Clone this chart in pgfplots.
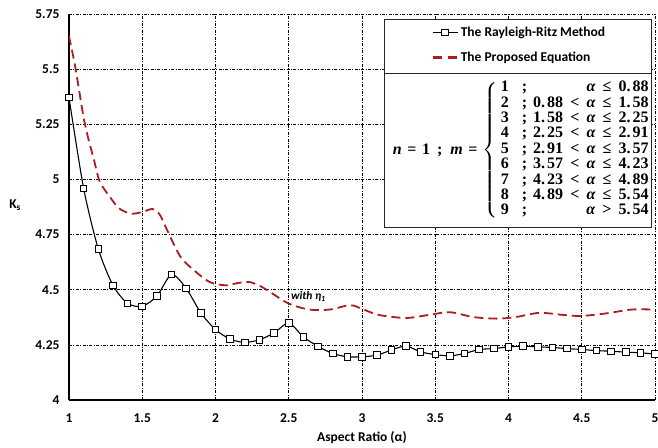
\documentclass[border=0pt]{standalone}
\usepackage{amsmath}
\usepackage{pgfplots}
\pgfplotsset{compat=1.18}
\usepackage{fontspec}
\setmainfont{Carlito}
\newfontfamily\cam{Liberation Serif}
\definecolor{dred}{RGB}{172,28,34}
\newcommand\tb[1]{\text{\cam\bfseries #1}}
\newcommand\ti[1]{\text{\cam\bfseries\itshape #1}}
\newcommand\R[1]{\mathrel{\mkern1.5mu\tb{#1}\mkern1.5mu}}
\newcommand\al{\ti{α}}
\newcommand\nm[2]{\tb{#1.\hspace{2pt}#2}}
\newsavebox\casebox
\begin{document}
\sbox\casebox{\fontsize{16}{15.4}\selectfont\boldmath
$\ti{n}\mathrel{\tb{=}}\tb{1}\hspace{7pt}\tb{;}\hspace{8pt}\ti{m}\mathrel{\tb{=}}\left\{\renewcommand{\arraystretch}{1}\begin{array}{@{\hspace{2.5pt}}l@{\hspace{13pt}}c@{\hspace{6pt}}r@{}}
\tb{1} & \tb{;} & \al\R{≤}\nm{0}{88}\\
\tb{2} & \tb{;} & \nm{0}{88}\R{<}\al\R{≤}\nm{1}{58}\\
\tb{3} & \tb{;} & \nm{1}{58}\R{<}\al\R{≤}\nm{2}{25}\\
\tb{4} & \tb{;} & \nm{2}{25}\R{<}\al\R{≤}\nm{2}{91}\\
\tb{5} & \tb{;} & \nm{2}{91}\R{<}\al\R{≤}\nm{3}{57}\\
\tb{6} & \tb{;} & \nm{3}{57}\R{<}\al\R{≤}\nm{4}{23}\\
\tb{7} & \tb{;} & \nm{4}{23}\R{<}\al\R{≤}\nm{4}{89}\\
\tb{8} & \tb{;} & \nm{4}{89}\R{<}\al\R{≤}\nm{5}{54}\\
\tb{9} & \tb{;} & \al\R{>}\nm{5}{54}
\end{array}\right.$}%
\begin{tikzpicture}
\begin{axis}[
  scale only axis, width=586pt, height=386pt,
  xmin=1, xmax=5, ymin=4, ymax=5.75,
  xtick={1,1.5,2,2.5,3,3.5,4,4.5,5},
  ytick={4,4.25,4.5,4.75,5,5.25,5.5,5.75},
  axis lines=left, axis line style={-, line width=1.4pt},
  major tick length=0pt,
  grid=major,
  major grid style={black, line width=0.6pt, dash pattern=on 3pt off 1.5pt on 0.8pt off 1.5pt},
  /pgf/number format/assume math mode=true,
  tick label style={font=\fontsize{13.5}{16}\selectfont\bfseries},
  yticklabel style={xshift=-6pt},
  xticklabel style={yshift=-10pt},
  xlabel={\bfseries Aspect Ratio (α)},
  ylabel={\bfseries K\textsubscript{s}},
  label style={font=\fontsize{13.5}{16}\selectfont},
  xlabel style={at={(axis description cs:0.5,-0.096)}, anchor=center},
  ylabel style={at={(axis description cs:-0.092,0.505)}, anchor=center, rotate=-90},
  legend style={at={(axis cs:4.074,5.609)}, anchor=center, draw=none, fill=none,
    font=\fontsize{13.5}{16}\selectfont\bfseries, row sep=10pt, inner sep=0pt},
  legend cell align=left,
]
\coordinate (bl) at (rel axis cs:0,0);
\coordinate (tr) at (rel axis cs:1,1);
% legend frames (drawn over grid)
\draw[fill=white, draw=black!85, line width=1pt] (axis cs:3.1555,5.726) rectangle (axis cs:4.977,5.482);
\draw[fill=white, draw=black!85, line width=1pt] (axis cs:3.1555,5.482) rectangle (axis cs:4.977,4.782);

\addplot[black, line width=1.1pt, smooth, tension=0.45, mark=square*, mark size=3.3pt,
  mark options={fill=white, solid, line width=0.9pt},
  legend image code/.code={\draw[mark repeat=2,mark phase=2] plot coordinates {(0pt,0pt) (12.5pt,0pt) (25pt,0pt)};}] coordinates {
(1.0,5.371) (1.1,4.959) (1.2,4.685) (1.3,4.520) (1.4,4.438) (1.5,4.425)
(1.6,4.471) (1.7,4.569) (1.8,4.506) (1.9,4.395) (2.0,4.319) (2.1,4.276)
(2.2,4.261) (2.3,4.273) (2.4,4.304) (2.5,4.349) (2.6,4.286) (2.7,4.243)
(2.8,4.211) (2.9,4.196) (3.0,4.196) (3.1,4.203) (3.2,4.226) (3.3,4.245)
(3.4,4.218) (3.5,4.206) (3.6,4.200) (3.7,4.211) (3.8,4.229) (3.9,4.233)
(4.0,4.241) (4.1,4.244) (4.2,4.241) (4.3,4.238) (4.4,4.233) (4.5,4.229)
(4.6,4.224) (4.7,4.221) (4.8,4.217) (4.9,4.214) (5.0,4.208)
};
\addlegendentry{The Rayleigh-Ritz Method}

\addplot[dred, line width=1.8pt, smooth, tension=0.5, dash pattern=on 9pt off 5pt,
  legend image code/.code={\draw[dred, line width=2.2pt, dash pattern=on 9pt off 6pt] (0pt,0pt) -- (25pt,0pt);}] coordinates {
(1.00,5.65) (1.04,5.52) (1.07,5.40) (1.10,5.28) (1.13,5.19) (1.17,5.09)
(1.21,4.99) (1.28,4.92) (1.34,4.87) (1.42,4.845) (1.50,4.852) (1.57,4.866)
(1.62,4.84) (1.67,4.77) (1.76,4.65) (1.85,4.59) (1.96,4.535) (2.07,4.52)
(2.15,4.53) (2.23,4.535) (2.31,4.515) (2.39,4.482) (2.50,4.437) (2.64,4.41)
(2.78,4.41) (2.92,4.43) (3.01,4.41) (3.12,4.385) (3.30,4.372) (3.45,4.385)
(3.60,4.398) (3.76,4.376) (3.92,4.369) (4.05,4.376) (4.21,4.395) (4.37,4.386)
(4.49,4.381) (4.66,4.392) (4.84,4.41) (5.00,4.41)
};
\addlegendentry{The Proposed Equation}

\node[anchor=west, font=\fontsize{11.5}{14}\selectfont\bfseries\itshape, inner sep=0pt] at (axis cs:2.514,4.47) {with η\textsubscript{1}};

\node[inner sep=0pt, anchor=west] at (axis cs:3.21,5.132) {\usebox\casebox};
\end{axis}
\pgfresetboundingbox
\path[use as bounding box] ([shift={(-69pt,-47pt)}]bl) rectangle ([shift={(3pt,14pt)}]tr);
\end{tikzpicture}
\end{document}
